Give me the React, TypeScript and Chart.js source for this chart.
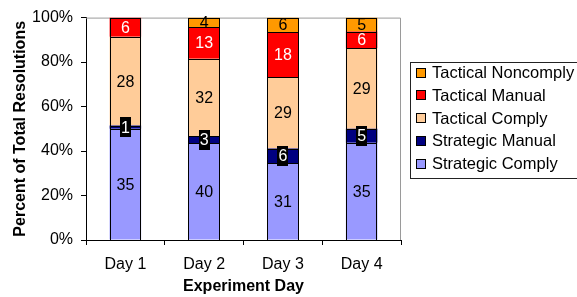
import { useEffect, useRef } from 'react';
import { Chart, registerables } from 'chart.js';

Chart.register(...registerables);

const categories = ['Day 1', 'Day 2', 'Day 3', 'Day 4'];
const seriesNames = ['Strategic Comply', 'Strategic Manual', 'Tactical Comply', 'Tactical Manual', 'Tactical Noncomply'];
const strategicComply = [35, 40, 31, 35];
const strategicManual = [1, 3, 6, 5];
const tacticalComply = [28, 32, 29, 29];
const tacticalManual = [6, 13, 18, 6];
const tacticalNoncomply = [0, 4, 6, 5];
const yTickValues = [0, 20, 40, 60, 80, 100];
const seriesColors = ['#9999FF', '#000080', '#FFCC99', '#FF0000', '#FF9900'];
const labelStyles = ['dark', 'boxed', 'dark', 'light', 'dark'];

const FONT = '"Liberation Sans", Arial, Helvetica, sans-serif';

export default function App() {
  const ref = useRef<HTMLCanvasElement | null>(null);

  useEffect(() => {
    const canvas = ref.current;
    if (!canvas) return;
    const counts = [strategicComply, strategicManual, tacticalComply, tacticalManual, tacticalNoncomply];
    const totals = categories.map((_, i) => counts.reduce((s, arr) => s + arr[i], 0));

    const decorations = {
      id: 'decorations',
      beforeDatasetsDraw(chart: any) {
        const { ctx, chartArea: a } = chart;
        ctx.save();
        ctx.strokeStyle = '#9a9a9a';
        ctx.lineWidth = 1;
        ctx.beginPath();
        ctx.moveTo(a.left, a.top + 0.5);
        ctx.lineTo(a.right - 0.5, a.top + 0.5);
        ctx.lineTo(a.right - 0.5, a.bottom);
        ctx.stroke();
        ctx.restore();
      },
      afterDatasetsDraw(chart: any) {
        const { ctx } = chart;
        ctx.save();
        // crisp black outlines for each segment
        ctx.strokeStyle = '#000';
        ctx.lineWidth = 1;
        chart.data.datasets.forEach((ds: any, di: number) => {
          const meta = chart.getDatasetMeta(di);
          meta.data.forEach((el: any, i: number) => {
            if (!ds.counts[i]) return;
            const l = Math.round(el.x - el.width / 2);
            const r = Math.round(el.x + el.width / 2);
            const t = Math.round(Math.min(el.y, el.base));
            const b = Math.round(Math.max(el.y, el.base));
            ctx.strokeRect(l + 0.5, t + 0.5, r - l - 1, b - t - 1 > 0 ? b - t : 0);
          });
        });
        ctx.font = `16px ${FONT}`;
        ctx.textAlign = 'center';
        ctx.textBaseline = 'middle';
        chart.data.datasets.forEach((ds: any, di: number) => {
          const meta = chart.getDatasetMeta(di);
          meta.data.forEach((el: any, i: number) => {
            const v = ds.counts[i];
            if (!v) return;
            const x = el.x;
            const y = (el.y + el.base) / 2;
            const txt = String(v);
            const style = labelStyles[di];
            if (style === 'boxed') {
              const w = ctx.measureText(txt).width + 2;
              ctx.fillStyle = '#000';
              ctx.fillRect(Math.round(x - w / 2), Math.round(y - 10), Math.round(w), 20);
              ctx.fillStyle = '#fff';
            } else if (style === 'light') {
              ctx.fillStyle = '#fff';
            } else {
              ctx.fillStyle = '#000';
            }
            ctx.fillText(txt, x, y + 1);
          });
        });
        ctx.restore();
      },
      afterDraw(chart: any) {
        const { ctx } = chart;
        const left = 410.5;
        const top = 62.5;
        const bottom = 178.5;
        const rowH = 22.75;
        ctx.save();
        ctx.strokeStyle = '#222';
        ctx.lineWidth = 1;
        ctx.strokeRect(left, top, 200, bottom - top);
        ctx.font = `16.5px ${FONT}`;
        ctx.textAlign = 'left';
        ctx.textBaseline = 'middle';
        const items = chart.data.datasets.map((d: any, i: number) => ({ d, i })).reverse();
        items.forEach(({ d }: any, r: number) => {
          const cy = 72.5 + r * rowH;
          ctx.fillStyle = d.backgroundColor;
          ctx.fillRect(416, Math.round(cy - 5), 10, 10);
          ctx.strokeStyle = '#000';
          ctx.strokeRect(416.5, Math.round(cy - 5) + 0.5, 9, 9);
          ctx.fillStyle = '#000';
          ctx.fillText(d.label, 432, cy + 1);
        });
        ctx.restore();
      },
    };

    const chart = new Chart(canvas, {
      type: 'bar',
      data: {
        labels: categories,
        datasets: seriesNames.map((name, si) => ({
          label: name,
          counts: counts[si],
          data: counts[si].map((v, i) => (v / totals[i]) * 100),
          backgroundColor: seriesColors[si],
          borderWidth: 0,
          inflateAmount: 0,
          categoryPercentage: 1,
          barPercentage: 0.4,
        })) as any,
      },
      options: {
        responsive: false,
        animation: false,
        devicePixelRatio: 1,
        layout: { padding: { left: 0, right: 176, top: 16, bottom: 0 } },
        plugins: {
          legend: { display: false },
          tooltip: { enabled: false },
        },
        scales: {
          x: {
            stacked: true,
            grid: { display: true, drawOnChartArea: false, offset: true, color: '#000', tickLength: 5 },
            border: { display: true, color: '#000', width: 1 },
            ticks: { color: '#000', font: { family: FONT, size: 16 }, padding: 10, maxRotation: 0 },
            title: {
              display: true,
              text: 'Experiment Day',
              color: '#000',
              font: { family: FONT, size: 16, weight: 'bold' },
              padding: { top: 0, bottom: 1 },
            },
            afterFit(scale: any) {
              scale.height = 57;
            },
          },
          y: {
            stacked: true,
            min: 0,
            max: 100,
            grid: { display: true, drawOnChartArea: false, color: '#000', tickLength: 5 },
            border: { display: true, color: '#000', width: 1 },
            ticks: {
              color: '#000',
              font: { family: FONT, size: 16 },
              padding: 8,
              callback: (v: any) => `${v}%`,
            },
            afterBuildTicks(scale: any) {
              scale.ticks = yTickValues.map((v) => ({ value: v }));
            },
            title: {
              display: true,
              text: 'Percent of Total Resolutions',
              color: '#000',
              font: { family: FONT, size: 16, weight: 'bold' },
              padding: { top: 11, bottom: 0 },
            },
            afterFit(scale: any) {
              scale.width = 86;
            },
          },
        },
      },
      plugins: [decorations],
    });

    return () => chart.destroy();
  }, []);

  return (
    <div style={{ position: 'fixed', left: 0, top: 0, width: 577, height: 297, background: '#fff' }}>
      <canvas ref={ref} width={577} height={297} style={{ width: 577, height: 297, display: 'block' }} />
    </div>
  );
}
